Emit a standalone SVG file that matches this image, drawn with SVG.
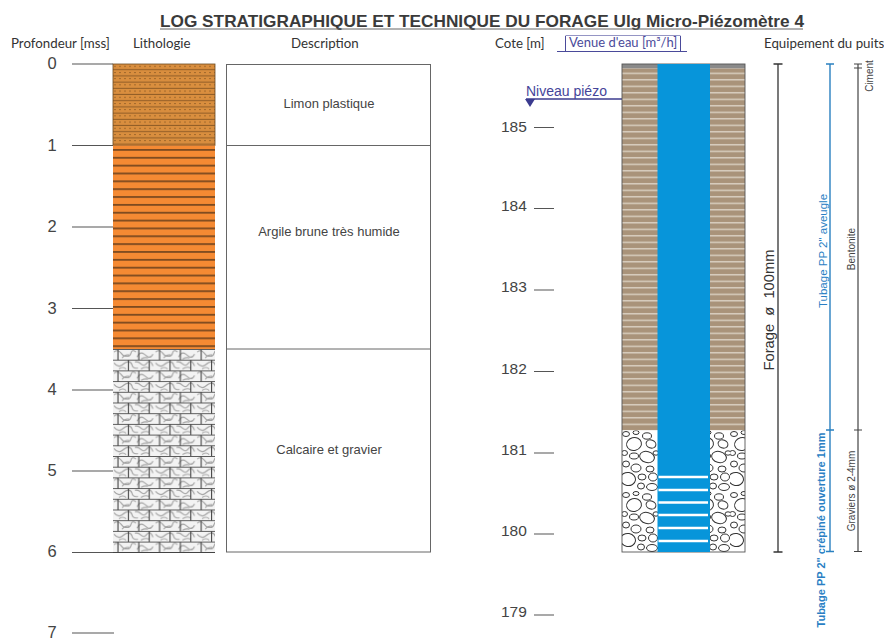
<svg xmlns="http://www.w3.org/2000/svg" width="884" height="640" viewBox="0 0 884 640">
<style>
.h{font-family:"Lato","Liberation Sans",sans-serif;font-size:13.3px;fill:#333}
.n{font-family:"Liberation Sans",Arial,sans-serif;font-size:15.5px;fill:#444}
.d{font-family:"Liberation Sans",Arial,sans-serif;font-size:13px;fill:#444;text-anchor:middle}
.s{font-family:"Liberation Sans",Arial,sans-serif;font-size:10px;fill:#444;text-anchor:middle}
.b{font-family:"Liberation Sans",Arial,sans-serif;font-size:11.500px;fill:#2a7fc4;text-anchor:middle}
.t{stroke:#555;stroke-width:1.2;fill:none}
.e{stroke:#333;stroke-width:1.3;fill:none}
.eb{stroke:#2a80c0;stroke-width:1.4;fill:none}
.eg{stroke:#444;stroke-width:1.2;fill:none}
</style>
<defs>
<pattern id="limon" patternUnits="userSpaceOnUse" x="113" y="64" width="10" height="6.2">
<rect width="10" height="6.2" fill="#d98e3e"/>
<rect y="5.200" width="10" height="1" fill="#8f5c26"/>
<circle cx="2" cy="2.300" r="0.6" fill="#5a3a15"/><circle cx="7" cy="2.300" r="0.6" fill="#5a3a15"/>
</pattern>
<pattern id="argile" patternUnits="userSpaceOnUse" x="113" y="149" width="20" height="7.85">
<rect width="20" height="7.85" fill="#f58a33"/>
<rect y="0" width="20" height="1.800" fill="#7d4a1f"/>
</pattern>
<pattern id="calc" patternUnits="userSpaceOnUse" x="113" y="349" width="41.6" height="21.4">
<rect width="41.6" height="21.4" fill="#f3f3f3"/>
<g fill="none" stroke="#a2a2a2" stroke-width="1.1">
<path d="M1 3q4-3 7 1t5 3q4 1 5-3t5-1"/>
<path d="M9 9q3-4 7-3"/>
<path d="M24 8q3-6 7-3t4 3q3 1 5-3"/>
<path d="M28 10q4-2 7-1"/>
<path d="M1 14q4 5 8 2t5-3q4-1 5 3t6 3"/>
<path d="M22 13q3-1 6 2t6-1t6 3"/>
<path d="M6 20q4-3 7 0"/>
<path d="M28 20q4-3 8-1"/>
</g>
<path d="M0 0.500H41.6M0 11.200H41.6" stroke="#5a5a5a" stroke-width="1"/>
<path d="M5 0.500V11.200M25.800 0.500V11.200M15.400 11.200V21.400M36.200 11.200V21.400" stroke="#444" stroke-width="1.100"/>
</pattern>
<pattern id="brun" patternUnits="userSpaceOnUse" x="622" y="68" width="10" height="6.5">
<rect width="10" height="6.5" fill="#a9937a"/>
<rect y="4.600" width="10" height="1.400" fill="#dcd2c4"/>
</pattern>
<pattern id="grav" patternUnits="userSpaceOnUse" x="622" y="430" width="36" height="61">
<rect width="36" height="61" fill="#fff"/>
<g fill="#fff" stroke="#333" stroke-width="1">
<ellipse cx="12" cy="14" rx="7.500" ry="6.500" transform="rotate(-15 12 14)"/>
<ellipse cx="25" cy="6" rx="4.500" ry="3.200"/>
<ellipse cx="4" cy="4" rx="3.500" ry="2.500"/>
<ellipse cx="14" cy="2.500" rx="3" ry="2"/>
<ellipse cx="29" cy="14" rx="5" ry="4" transform="rotate(20 29 14)"/>
<ellipse cx="2.500" cy="23" rx="3" ry="2.500"/>
<ellipse cx="12" cy="26" rx="4.500" ry="3"/>
<ellipse cx="25" cy="27" rx="7.500" ry="5.500" transform="rotate(15 25 27)"/>
<ellipse cx="34" cy="23" rx="3" ry="2.200"/>
<ellipse cx="4" cy="34" rx="3.500" ry="3"/>
<ellipse cx="14" cy="38" rx="5" ry="4"/>
<ellipse cx="28" cy="39" rx="4" ry="3"/>
<ellipse cx="6" cy="49" rx="7.500" ry="6.500" transform="rotate(10 6 49)"/>
<ellipse cx="20" cy="47" rx="4" ry="3"/>
<ellipse cx="31" cy="47" rx="4.500" ry="4"/>
<ellipse cx="19" cy="56" rx="3.500" ry="3"/>
<ellipse cx="30" cy="57" rx="5.500" ry="3.500"/>
</g>
</pattern>
</defs>

<g id="titre">
<text x="482" y="27" text-anchor="middle" textLength="644" lengthAdjust="spacingAndGlyphs" font-family="Liberation Sans, Arial, sans-serif" font-size="16.5" font-weight="bold" fill="#3a3a3a">LOG STRATIGRAPHIQUE ET TECHNIQUE DU FORAGE Ulg Micro-Piézomètre 4</text>
<path d="M160 29H803" stroke="#666" stroke-width="1"/>
</g>

<g id="entetes">
<text class="h" x="11" y="47.500">Profondeur [mss]</text>
<text class="h" x="133" y="47.500">Lithologie</text>
<text class="h" x="291" y="47.500">Description</text>
<text class="h" x="495" y="47.500">Cote [m]</text>
<text class="h" x="764" y="47.500">Equipement du puits</text>
</g>

<g id="venue-eau">
<text x="569" y="47" font-family="Lato, Liberation Sans, sans-serif" font-size="13" fill="#4a4a9a">Venue d'eau [m³/h]</text>
<path d="M565.500 36V51.500M680.500 36V51.500M557 51.500H687" stroke="#4a4a9a" stroke-width="1" fill="none"/>
<path d="M565.500 35.500H680.500" stroke="#7a7ab5" stroke-width="0.8" fill="none"/>
</g>

<g id="echelle-profondeur">
<text class="n" x="52" y="69" text-anchor="middle" style="font-size:16.500px">0</text>
<text class="n" x="52" y="151" text-anchor="middle" style="font-size:16.500px">1</text>
<text class="n" x="52" y="232" text-anchor="middle" style="font-size:16.500px">2</text>
<text class="n" x="52" y="314" text-anchor="middle" style="font-size:16.500px">3</text>
<text class="n" x="52" y="395" text-anchor="middle" style="font-size:16.500px">4</text>
<text class="n" x="52" y="476" text-anchor="middle" style="font-size:16.500px">5</text>
<text class="n" x="52" y="557" text-anchor="middle" style="font-size:16.500px">6</text>
<text class="n" x="52" y="638" text-anchor="middle" style="font-size:16.500px">7</text>
</g>

<g id="connecteurs">
<path class="t" d="M72 64H113M72 145.500H113M72 227H113M72 308.500H113M72 390H113M72 471H113M72 552.500H113M72 633H114"/>
<path class="t" d="M534 127.500H554M534 208.500H554M534 290H554M534 371.500H554M534 453H554M534 534H554M534 615H554"/>
<path d="M526 99H622" stroke="#3b3b8f" stroke-width="1.6"/>
</g>

<g id="lithologie">
<rect id="limon-rect" x="113" y="64" width="102" height="81.500" fill="url(#limon)" stroke="#6b4a22" stroke-width="0.8"/>
<rect id="argile-rect" x="113" y="145.500" width="102" height="203.500" fill="url(#argile)"/>
<rect id="calcaire-rect" x="113" y="349" width="102" height="203" fill="url(#calc)"/>
<path d="M113 552.500H215" stroke="#444" stroke-width="1"/>
</g>

<g id="description">
<rect x="226.500" y="64.500" width="204" height="487.500" fill="#fff" stroke="#666" stroke-width="1"/>
<path d="M226.500 145.500H430.500M226.500 349H430.500" stroke="#666" stroke-width="1"/>
<text class="d" x="329" y="107.500">Limon plastique</text>
<text class="d" x="329" y="235.500">Argile brune très humide</text>
<text class="d" x="329" y="453.500">Calcaire et gravier</text>
</g>

<g id="cotes">
<text class="n" x="501" y="132">185</text>
<text class="n" x="501" y="211">184</text>
<text class="n" x="501" y="292">183</text>
<text class="n" x="501" y="374">182</text>
<text class="n" x="501" y="455">181</text>
<text class="n" x="501" y="536">180</text>
<text class="n" x="501" y="617">179</text>
</g>

<g id="niveau-piezo">
<text x="526" y="96" font-family="Liberation Sans, Arial, sans-serif" font-size="14" fill="#45459a">Niveau piézo</text>
<path d="M525 99H535L530 107Z" fill="#3b3b8f"/>
</g>

<g id="puits">
<rect x="622" y="64" width="123" height="4.500" fill="#8a8a8a"/>
<rect x="622" y="68.500" width="123" height="362" fill="url(#brun)"/>
<rect x="622" y="430.500" width="123" height="121.500" fill="url(#grav)"/>
<rect x="622" y="64" width="123" height="488" fill="none" stroke="#555" stroke-width="0.9"/>
<rect x="657.500" y="64" width="52.500" height="488" fill="#0795da"/>
<path d="M658.500 477H708M658.500 490H708M658.500 502.500H708M658.500 515H708M658.500 528H708M658.500 541H708" stroke="#fff" stroke-width="2.400"/>
</g>

<g id="equipement">
<path class="e" d="M778 64V552M773.500 64H782.500M773.500 552H782.500"/>
<path class="eb" d="M830 64V551.500M826 64H834M826 430H834M826 551.500H834"/>
<path class="eg" d="M858 64V551.500M854 64H862M854 68H862M854 430H862M854 551.500H862"/>
<text font-family="Liberation Sans, Arial, sans-serif" font-size="14.700" fill="#333" text-anchor="middle" transform="translate(774,310) rotate(-90)" xml:space="preserve">Forage  ø  100mm</text>
<text class="b" transform="translate(827,251) rotate(-90)">Tubage PP 2" aveugle</text>
<text class="b" font-weight="bold" transform="translate(825,530) rotate(-90)" style="font-size:11px">Tubage PP 2" crépiné ouverture 1mm</text>
<text class="s" transform="translate(855,249) rotate(-90)">Bentonite</text>
<text class="s" transform="translate(855,491) rotate(-90)">Graviers ø 2-4mm</text>
<text class="s" transform="translate(873,76) rotate(-90)">Ciment</text>
</g>
</svg>
